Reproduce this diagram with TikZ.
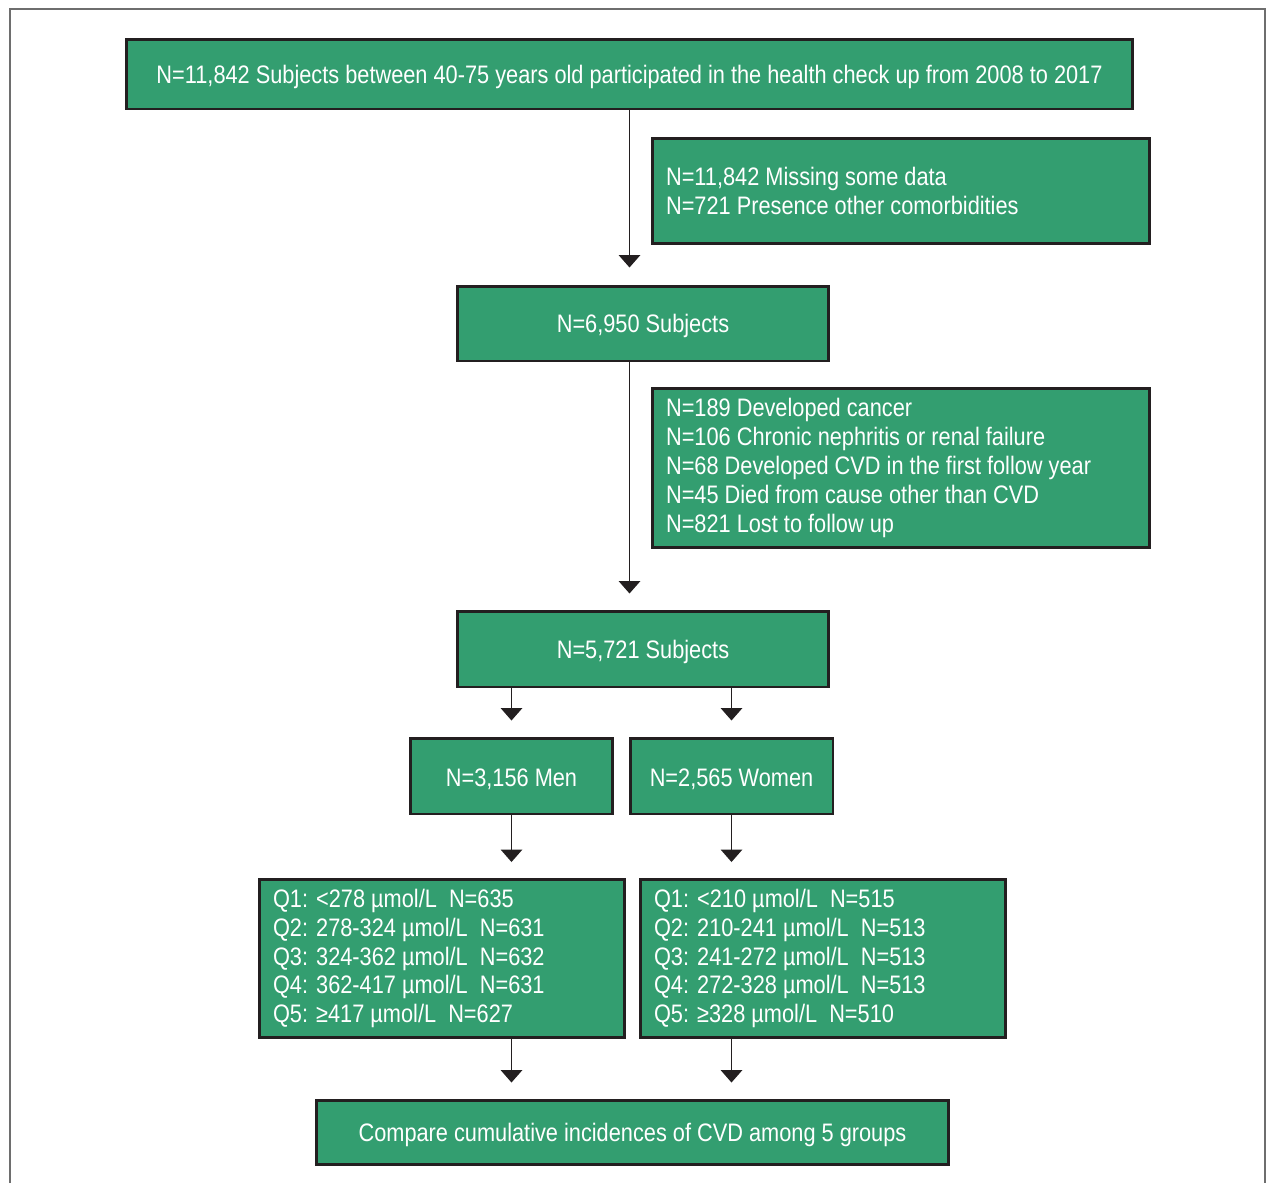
\documentclass[tikz,border=0pt]{standalone}
\usepackage{fontspec}
\setmainfont{Liberation Sans}[FakeStretch=0.86]
\usetikzlibrary{positioning, arrows.meta}

\definecolor{boxgreen}{RGB}{51,158,112}
\definecolor{boxline}{RGB}{35,31,32}
\definecolor{framegray}{RGB}{110,110,110}

\newcommand{\low}[1]{\raisebox{-1.6pt}[\height][\depth]{#1}}

\begin{document}
\begin{tikzpicture}
[
    x=0.02cm, y=-0.02cm,
    % nodes are placed at pixel coordinates of the flow chart
    % boxes: top, excl-*, sub-*, men/women, q-*, compare
    font=\fontsize{14.4}{16.4}\selectfont
]

%=================================== Start ===================================
\tikzstyle{box}   = [draw=boxline, line width=1.7pt, fill=boxgreen, text=white,
                     inner sep=0pt, align=center]
\tikzstyle{lbox}  = [box, align=left, inner xsep=0.28cm,
                     execute at begin node={\spaceskip=0pt\xspaceskip=0pt\relax}]
\tikzstyle{arr}   = [draw=boxline, line width=1.1pt,
                     -{Triangle[width=12pt, length=7pt]}]

\useasboundingbox (0,0) rectangle (1270,1183);
% outer frame
\draw[framegray, line width=0.8pt] (10,1183) -- (10,9) -- (1265,9) -- (1265,1183);

{
    % main column
    \node[box, minimum width=20.14cm, minimum height=1.40cm] (top) at (629.5,74)
        {\low{N=11,842 Subjects between 40-75 years old participated in the health check up from 2008 to 2017}};
    \node[box, minimum width=7.44cm, minimum height=1.50cm] (sub-1) at (643,323.5)
        {\low{N=6,950 Subjects}};
    \node[box, minimum width=7.44cm, minimum height=1.52cm] (sub-2) at (643,649)
        {\low{N=5,721 Subjects}};

    % exclusions
    \node[lbox, text width=9.4cm, minimum height=2.10cm] (excl-1) at (901,191)
        {N=11,842 Missing some data\\
         N=721 Presence other comorbidities};
    \node[lbox, text width=9.4cm, minimum height=3.18cm] (excl-2) at (901,468)
        {N=189 Developed cancer\\
         N=106 Chronic nephritis or renal failure\\
         N=68 Developed CVD in the first follow year\\
         N=45 Died from cause other than CVD\\
         N=821 Lost to follow up};

    % sex groups
    \node[box, minimum width=4.06cm, minimum height=1.52cm] (men) at (511.5,776)
        {\low{N=3,156 Men}};
    \node[box, minimum width=4.06cm, minimum height=1.52cm] (women) at (731.5,776)
        {\low{N=2,565 Women}};

    % quintiles
    \node[lbox, text width=6.76cm, minimum height=3.16cm] (q-men) at (442,958.5)
        {Q1: <278 µmol/L\ \ N=635\\
         Q2: 278-324 µmol/L\ \ N=631\\
         Q3: 324-362 µmol/L\ \ N=632\\
         Q4: 362-417 µmol/L\ \ N=631\\
         Q5: ≥417 µmol/L\ \ N=627};
    \node[lbox, text width=6.76cm, minimum height=3.16cm] (q-women) at (823,958.5)
        {Q1: <210 µmol/L\ \ N=515\\
         Q2: 210-241 µmol/L\ \ N=513\\
         Q3: 241-272 µmol/L\ \ N=513\\
         Q4: 272-328 µmol/L\ \ N=513\\
         Q5: ≥328 µmol/L\ \ N=510};

    \node[box, minimum width=12.66cm, minimum height=1.28cm] (compare) at (632.5,1132)
        {\low{Compare cumulative incidences of CVD among 5 groups}};

    % main arrows
    \draw[arr, shorten >=0.34cm] (top.south) -- (top.south |- sub-1.north);
    \draw[arr, shorten >=0.32cm] (top.south |- sub-1.south) -- (top.south |- sub-2.north);

    % split into men / women and onward
    \foreach \g / \q in {men/q-men, women/q-women}
    {
        \draw[arr, shorten >=0.32cm] (\g.north |- sub-2.south) -- (\g.north);
        \draw[arr, shorten >=0.32cm] (\g.south) -- (\g.south |- \q.north);
        \draw[arr, shorten >=0.32cm] (\g.south |- \q.south) -- (\g.south |- compare.north);
    }
}
%==================================== END ====================================

\end{tikzpicture}
\end{document}
